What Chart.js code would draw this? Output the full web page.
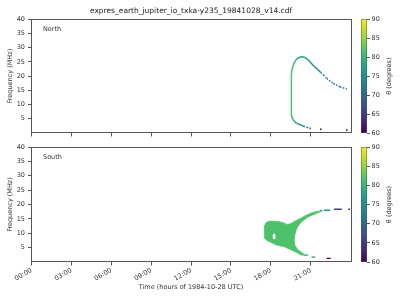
<!DOCTYPE html>
<html>
<head>
<meta charset="utf-8">
<script src="https://cdn.jsdelivr.net/npm/chart.js@4/dist/chart.umd.min.js"></script>
<style>
  html, body { margin: 0; padding: 0; background: #fff; }
  #wrap { position: relative; width: 400px; height: 300px; overflow: hidden; }
  canvas { position: absolute; }
</style>
</head>
<body>
<div id="wrap">
  <canvas id="north" width="400" height="145" style="left:0;top:0"></canvas>
  <canvas id="south" width="400" height="160" style="left:0;top:140px"></canvas>
  <canvas id="northBar" width="45" height="145" style="left:355px;top:0"></canvas>
  <canvas id="southBar" width="45" height="160" style="left:355px;top:140px"></canvas>
</div>
<script>
const fileTitle = 'expres_earth_jupiter_io_txka-y235_19841028_v14.cdf';
const timeLabels = ['00:00', '03:00', '06:00', '09:00', '12:00', '15:00', '18:00', '21:00'];
const thetaMin = 60, thetaMax = 90;

// North hemisphere arc: time (h), frequency (MHz), theta (deg)
const northTime  = [21.01, 20.56, 20.38, 20.13, 19.95, 19.80, 19.70, 19.62, 19.56, 19.55, 19.55, 19.56, 19.62, 19.70, 19.80, 19.95, 20.13, 20.38, 20.56, 20.75, 21.01, 21.26, 21.50, 21.76, 21.96, 22.21, 22.71, 23.21, 23.72];
const northFreq  = [1.6, 2.2, 2.6, 3.1, 3.4, 4.0, 4.6, 5.3, 6.3, 12.0, 18.0, 21.0, 22.7, 23.9, 25.0, 26.0, 26.6, 26.8, 26.6, 26.0, 24.7, 23.5, 22.5, 21.3, 20.4, 19.2, 17.4, 16.2, 15.5];
const northTheta = [67, 74, 75, 76, 77, 78, 79, 80, 81.5, 81.5, 81.5, 81, 80, 79.5, 79, 78, 77, 77, 77, 76, 75, 74, 73.5, 73, 72.5, 72, 71.5, 71, 70.5];
const northDotTime  = [21.76, 23.72];
const northDotFreq  = [1.3, 1.05];
const northDotTheta = [60, 60];

// South hemisphere emission region outline (closed) and the small gap inside it
const southBlobTime = [17.53, 17.62, 17.78, 18.02, 18.55, 18.92, 19.22, 19.53, 19.83, 20.28, 20.65, 21.03, 21.41, 21.70, 21.70, 21.26, 20.88, 20.50, 20.20, 19.98, 19.83, 19.77, 19.83, 20.02, 20.28, 20.55, 20.40, 20.20, 19.94, 19.53, 19.07, 18.40, 17.95, 17.70, 17.55, 17.50, 17.53];
const southBlobFreq = [12.6, 13.6, 14.1, 14.26, 14.09, 13.74, 13.04, 13.39, 14.26, 15.30, 16.24, 17.04, 17.57, 17.76, 17.35, 16.52, 15.83, 14.61, 13.39, 11.83, 9.74, 7.65, 5.74, 4.35, 3.48, 2.60, 2.30, 2.61, 3.30, 4.17, 5.22, 5.91, 6.96, 7.5, 8.3, 10.5, 12.6];
const southBlobTheta = 81.5;
const southHoleTime = [18.26, 18.35, 18.38, 18.32, 18.22, 18.15, 18.15, 18.26];
const southHoleFreq = [10.0, 9.6, 8.8, 8.0, 7.9, 8.4, 9.4, 10.0];
// short isolated runs beyond the main region
const southDashStart = [21.70, 22.01, 22.76, 23.84, 20.51, 21.07, 22.21];
const southDashEnd   = [21.88, 22.46, 23.34, 23.97, 20.81, 21.33, 22.51];
const southDashFreq  = [17.85, 17.98, 18.33, 18.33, 2.40, 1.70, 1.25];
const southDashTheta = [77, 75, 65, 61, 77, 74, 60];

const VIRIDIS = ['#440154', '#482475', '#414487', '#355f8d', '#2a788e', '#21918c', '#22a884', '#44bf70', '#7ad151', '#bddf26', '#fde725'];

function hexRgb(h) {
  return [parseInt(h.slice(1, 3), 16), parseInt(h.slice(3, 5), 16), parseInt(h.slice(5, 7), 16)];
}
function viridis(theta) {
  let t = (theta - thetaMin) / (thetaMax - thetaMin);
  t = Math.max(0, Math.min(1, t));
  const p = t * 10;
  const i = Math.min(9, Math.floor(p));
  const f = p - i;
  const a = hexRgb(VIRIDIS[i]), b = hexRgb(VIRIDIS[i + 1]);
  const c = a.map((v, k) => Math.round(v + (b[k] - v) * f));
  return 'rgb(' + c.join(',') + ')';
}

Chart.defaults.font.family = '"DejaVu Sans", sans-serif';
Chart.defaults.font.size = 6.5;
Chart.defaults.color = '#333';

const axisColor = '#555';

const framePlugin = {
  id: 'frame',
  afterDraw(chart) {
    const a = chart.chartArea, ctx = chart.ctx;
    ctx.save();
    ctx.strokeStyle = axisColor;
    ctx.lineWidth = 1;
    ctx.strokeRect(Math.round(a.left) - 0.5, Math.round(a.top) + 0.5, Math.round(a.right - a.left) + 1, Math.round(a.bottom - a.top) - 1);
    ctx.restore();
  }
};

const panelLabelPlugin = {
  id: 'panelLabel',
  afterDraw(chart, args, opts) {
    if (!opts.text) return;
    const a = chart.chartArea, ctx = chart.ctx;
    ctx.save();
    ctx.font = '6.5px "DejaVu Sans"';
    ctx.fillStyle = '#333';
    ctx.textBaseline = 'middle';
    ctx.fillText(opts.text, a.left + 11.5, a.top + 10.5);
    ctx.restore();
  }
};

const cbLabelPlugin = {
  id: 'cbLabel',
  afterDraw(chart, args, opts) {
    const a = chart.chartArea, ctx = chart.ctx;
    ctx.save();
    ctx.font = '6.5px "DejaVu Sans"';
    ctx.fillStyle = '#333';
    ctx.textAlign = 'center';
    ctx.textBaseline = 'middle';
    ctx.translate(opts.x, (a.top + a.bottom) / 2);
    ctx.rotate(-Math.PI / 2);
    ctx.fillText('θ (degrees)', 0, 0);
    ctx.restore();
  }
};

function pts(xs, ys) {
  return xs.map((x, i) => ({ x: x, y: ys[i] }));
}

function mainChart(id, datasets, o) {
  return new Chart(document.getElementById(id), {
    type: 'scatter',
    data: { datasets: datasets },
    options: {
      responsive: false,
      animation: false,
      layout: { padding: { top: o.padTop, right: 49.5, left: 0, bottom: 0 } },
      plugins: {
        legend: { display: false },
        tooltip: { enabled: false },
        title: o.title,
        panelLabel: { text: o.label }
      },
      scales: {
        x: {
          type: 'linear', min: 0, max: 24,
          afterBuildTicks: ax => { ax.ticks = ax.ticks.filter(t => t.value < 24); },
          afterFit: ax => { ax.height = o.xHeight; },
          ticks: {
            stepSize: 3, display: o.showTime, autoSkip: false,
            minRotation: 30, maxRotation: 30, padding: 1,
            callback: (v, i) => timeLabels[i]
          },
          grid: { drawOnChartArea: false, tickLength: 3.5, color: axisColor },
          border: { display: false },
          title: { display: o.showTime, text: 'Time (hours of 1984-10-28 UTC)', padding: { top: 0, bottom: 9 } }
        },
        y: {
          min: 0, max: 40,
          afterBuildTicks: ax => { ax.ticks = ax.ticks.filter(t => t.value > 0); },
          afterFit: ax => { ax.width = 31.5; },
          ticks: { stepSize: 5, padding: 3 },
          grid: { drawOnChartArea: false, tickLength: 3.5, color: axisColor },
          border: { display: false },
          title: { display: true, text: 'Frequency (MHz)', padding: { top: 6, bottom: 0 } }
        }
      }
    },
    plugins: [framePlugin, panelLabelPlugin]
  });
}

function colorbar(id, padTop, padBottom) {
  return new Chart(document.getElementById(id), {
    type: 'bar',
    data: {
      labels: ['θ'],
      datasets: [{
        data: [[thetaMin, thetaMax]],
        backgroundColor: c => {
          const a = c.chart.chartArea;
          if (!a) return VIRIDIS[5];
          const g = c.chart.ctx.createLinearGradient(0, a.bottom, 0, a.top);
          VIRIDIS.forEach((col, i) => g.addColorStop(i / 10, col));
          return g;
        },
        borderColor: axisColor,
        borderWidth: 0.8,
        borderSkipped: false,
        barPercentage: 1,
        categoryPercentage: 1
      }]
    },
    options: {
      responsive: false,
      animation: false,
      layout: { padding: { left: 6, top: padTop, bottom: padBottom, right: 0 } },
      plugins: { legend: { display: false }, tooltip: { enabled: false }, cbLabel: { x: 34 } },
      scales: {
        x: { display: false },
        y: {
          position: 'right', min: thetaMin, max: thetaMax,
          afterFit: ax => { ax.width = 33; },
          ticks: { stepSize: 5, padding: 1.5 },
          grid: { drawOnChartArea: false, tickLength: 3, color: axisColor },
          border: { display: false }
        }
      }
    },
    plugins: [cbLabelPlugin]
  });
}

const northSets = [
  {
    data: pts(northDotTime, northDotFreq),
    pointStyle: 'rect', pointRadius: 1.1, borderWidth: 0,
    backgroundColor: northDotTheta.map(viridis)
  },
  {
    data: pts(northTime, northFreq),
    showLine: true, pointRadius: 0, borderWidth: 1.5,
    borderColor: viridis(northTheta[0]),
    segment: {
      borderColor: c => viridis(northTheta[c.p0DataIndex]),
      borderDash: c => northTheta[c.p0DataIndex] < 73.5 ? [1.5, 1.5] : undefined
    }
  }
];

const southSets = [
  {
    data: pts(southHoleTime, southHoleFreq),
    showLine: true, pointRadius: 0, borderWidth: 0,
    fill: 'shape', backgroundColor: '#ffffff'
  },
  {
    data: pts(southBlobTime, southBlobFreq),
    showLine: true, pointRadius: 0, borderWidth: 0.6,
    borderColor: viridis(southBlobTheta),
    fill: 'shape', backgroundColor: viridis(southBlobTheta)
  }
].concat(southDashStart.map((t0, i) => ({
  data: [{ x: t0, y: southDashFreq[i] }, { x: southDashEnd[i], y: southDashFreq[i] }],
  showLine: true, pointRadius: 0, borderWidth: 1.4,
  borderColor: viridis(southDashTheta[i])
})));

mainChart('north', northSets, {
  padTop: 0, xHeight: 12, showTime: false, label: 'North',
  title: { display: true, text: fileTitle, fullSize: false, color: '#222', font: { size: 7.5, weight: 'normal' }, padding: { top: 6.5, bottom: 3.8 } }
});
mainChart('south', southSets, {
  padTop: 7, xHeight: 38, showTime: true, label: 'South',
  title: { display: false }
});
colorbar('northBar', 19.3, 12);
colorbar('southBar', 7, 38);
</script>
</body>
</html>
